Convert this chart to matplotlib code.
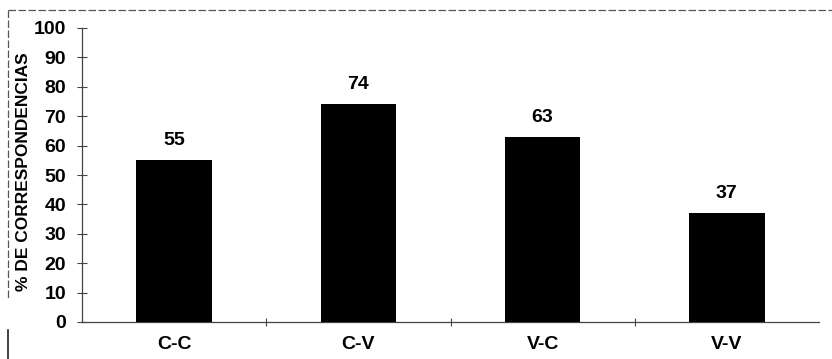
import matplotlib
matplotlib.use("Agg")
import matplotlib.pyplot as plt
from matplotlib.lines import Line2D

categories = ["C-C", "C-V", "V-C", "V-V"]
values = [55, 74, 63, 37]
yticks = [0, 10, 20, 30, 40, 50, 60, 70, 80, 90, 100]

plt.rcParams['font.family'] = ['Liberation Sans', 'DejaVu Sans']

fig = plt.figure(figsize=(8.32, 3.59), dpi=100)
top_px = 28
ax = fig.add_axes([82/832, 1-322/359, (819-82)/832, (322-top_px)/359])

x = range(len(categories))
ax.bar(x, values, width=0.41, color='black', zorder=3)
for xi, v in zip(x, values):
    ax.text(xi, v + 3.8, str(v), ha='center', va='bottom', fontsize=14, fontweight='bold')

ax.set_xlim(-0.5, len(categories) - 0.5)
ax.set_ylim(0, 100)
ax.set_yticks(yticks)
ax.set_yticklabels([str(t) for t in yticks], fontsize=14, fontweight='bold')
ax.set_xticks([i + 0.5 for i in range(len(categories) - 1)])
ax.set_xticklabels([])
ax.set_xticks(list(x), minor=True)
ax.set_xticklabels(categories, minor=True, fontsize=14, fontweight='bold')
ax.tick_params(axis='x', which='minor', length=0, pad=10)
ax.tick_params(axis='x', which='major', direction='inout', length=6, width=0.8, color='#444444')
ax.tick_params(axis='y', direction='inout', length=7, width=0.8, color='#444444', pad=8)
ax.set_ylabel("% DE CORRESPONDENCIAS", fontsize=12.5, fontweight='bold')
ax.yaxis.set_label_coords(-(82 - 31) / (819 - 82), (322 - (50 + 293) / 2) / (322 - top_px))

for s in ['top', 'right']:
    ax.spines[s].set_visible(False)
for s in ['left', 'bottom']:
    ax.spines[s].set_color('#444444')
    ax.spines[s].set_linewidth(0.9)

# scanned frame lines
fig.add_artist(Line2D([8/832, 1.0], [1-10/359, 1-10/359], transform=fig.transFigure,
                      color='#555555', lw=0.9, ls=(0, (6, 2))))
fig.add_artist(Line2D([8/832, 8/832], [1-10/359, 1-300/359], transform=fig.transFigure,
                      color='#555555', lw=0.9, ls=(0, (6, 2))))
fig.add_artist(Line2D([8/832, 8/832], [1-330/359, 0], transform=fig.transFigure,
                      color='#222222', lw=1.2))

fig.savefig("out.png", dpi=100)
